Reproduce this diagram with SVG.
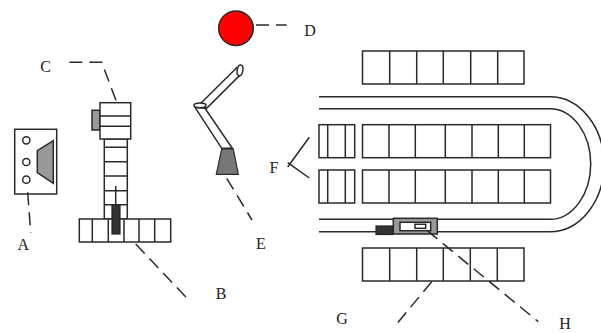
<svg xmlns="http://www.w3.org/2000/svg" width="601" height="333" viewBox="0 0 601 333">
<style>
.s{fill:#fff;stroke:#2a2a2a;stroke-width:1.5}
.l{fill:none;stroke:#2a2a2a;stroke-width:1.5}
.d{fill:none;stroke:#2a2a2a;stroke-width:1.5;stroke-dasharray:13 7}
.g{fill:#999;stroke:#2a2a2a;stroke-width:1.5}
.k{fill:#333;stroke:#222;stroke-width:1.2}
text{font-family:"Liberation Serif",serif;font-size:16px;fill:#222;text-anchor:middle}
</style>
<rect width="601" height="333" fill="#fff"/>
<g id="rails">
<path class="l" d="M319 96.7H550A54 67.5 0 0 1 550 231.7H319"/>
<path class="l" d="M319 108.7H550A40.7 55.3 0 0 1 550 219.3H319"/>
</g>
<g id="rack-top">
<rect class="s" x="362.5" y="51" width="161.5" height="33"/>
<path class="l" d="M389.7 51V84M416.7 51V84M443.3 51V84M470.7 51V84M497.7 51V84"/>
</g>
<g id="rack-mid-1">
<rect class="s" x="362.5" y="124.7" width="188" height="33"/>
<path class="l" d="M389 124.7V157.7M415.3 124.7V157.7M445.3 124.7V157.7M472 124.7V157.7M498.3 124.7V157.7M524.3 124.7V157.7"/>
</g>
<g id="rack-mid-2">
<rect class="s" x="362.5" y="170" width="188" height="33"/>
<path class="l" d="M389 170V203M415.3 170V203M445.3 170V203M472 170V203M498.3 170V203M524.3 170V203"/>
</g>
<g id="rack-left-1">
<rect class="s" x="319" y="124.7" width="35.7" height="33"/>
<path class="l" d="M327.7 124.7V157.7M345.3 124.7V157.7"/>
</g>
<g id="rack-left-2">
<rect class="s" x="319" y="170" width="35.7" height="33"/>
<path class="l" d="M327.7 170V203M345.3 170V203"/>
</g>
<g id="rack-bottom">
<rect class="s" x="362.5" y="248" width="161.5" height="33"/>
<path class="l" d="M389.7 248V281M416.7 248V281M443.3 248V281M470.3 248V281M497.3 248V281"/>
</g>
<g id="cart">
<rect class="k" x="376" y="226" width="17.3" height="8.5"/>
<rect class="g" x="393.3" y="218.3" width="44" height="15.7"/>
<rect class="s" x="400" y="222.3" width="30.7" height="8.4"/>
<rect class="s" x="415" y="224.3" width="10.7" height="4"/>
</g>
<g id="device-a">
<rect class="s" x="14.7" y="129.3" width="42" height="64.7"/>
<circle class="s" cx="26.3" cy="140.3" r="3.6"/>
<circle class="s" cx="26.3" cy="162" r="3.6"/>
<circle class="s" cx="26.3" cy="179.7" r="3.6"/>
<path class="g" d="M53.3 140.7L37.3 150.7V172.7L53.3 183.3Z"/>
</g>
<g id="device-c">
<rect class="g" x="92" y="110.3" width="8" height="19.7"/>
<rect class="s" x="104.3" y="139" width="23" height="80"/>
<path class="l" d="M104.3 147.3H127.3M104.3 161.7H127.3M104.3 176H127.3M104.3 190.7H127.3M104.3 204.7H127.3"/>
<rect class="s" x="100" y="102.7" width="30.7" height="36.3"/>
<path class="l" d="M100 116H130.7M100 126.3H130.7"/>
</g>
<g id="device-b">
<rect class="s" x="79.3" y="219" width="91.4" height="23"/>
<path class="l" d="M92.3 219V242M108.3 219V242M124 219V242M139 219V242M154.7 219V242"/>
<rect class="k" x="112" y="205" width="8" height="29"/>
<path class="l" d="M115.7 186V205"/>
</g>
<g id="device-d">
<circle cx="236" cy="28.3" r="17.3" fill="#f00" stroke="#2a2a2a" stroke-width="1.5"/>
</g>
<g id="device-e">
<path class="s" d="M200 104L236.7 67.7L240 75L206.7 108.3Z"/>
<ellipse class="s" cx="240" cy="70.3" rx="2.8" ry="5.4" transform="rotate(10 240 70.3)"/>
<path class="s" d="M195 107.3L221.7 148.3H232.3L205 108.3Z"/>
<ellipse class="s" cx="200" cy="105.3" rx="6" ry="2.4"/>
<path d="M221.7 149H233.3L238.3 174.3H216.3Z" fill="#777" stroke="#2a2a2a" stroke-width="1.2"/>
</g>
<g id="connectors">
<path class="d" d="M27.7 192.3L30.7 232.7"/>
<path class="d" d="M135.7 244L189.3 300.7"/>
<path class="d" d="M69.3 62.3H101.7L116.7 102.3"/>
<path class="d" d="M256 25H286.7"/>
<path class="d" d="M226.7 178.3L252 220"/>
<path class="l" d="M309.3 137.3L287.7 167M309.3 178L287.7 162.7"/>
<path class="d" d="M431.7 281.7L396.7 324"/>
<path class="d" d="M427.3 230.7L538.3 321.7"/>
</g>
<g id="labels">
<text x="23.3" y="250">A</text>
<text x="221" y="299">B</text>
<text x="45.7" y="72">C</text>
<text x="310" y="36">D</text>
<text x="261" y="249">E</text>
<text x="274" y="173">F</text>
<text x="342" y="324">G</text>
<text x="565" y="329">H</text>
</g>
</svg>
